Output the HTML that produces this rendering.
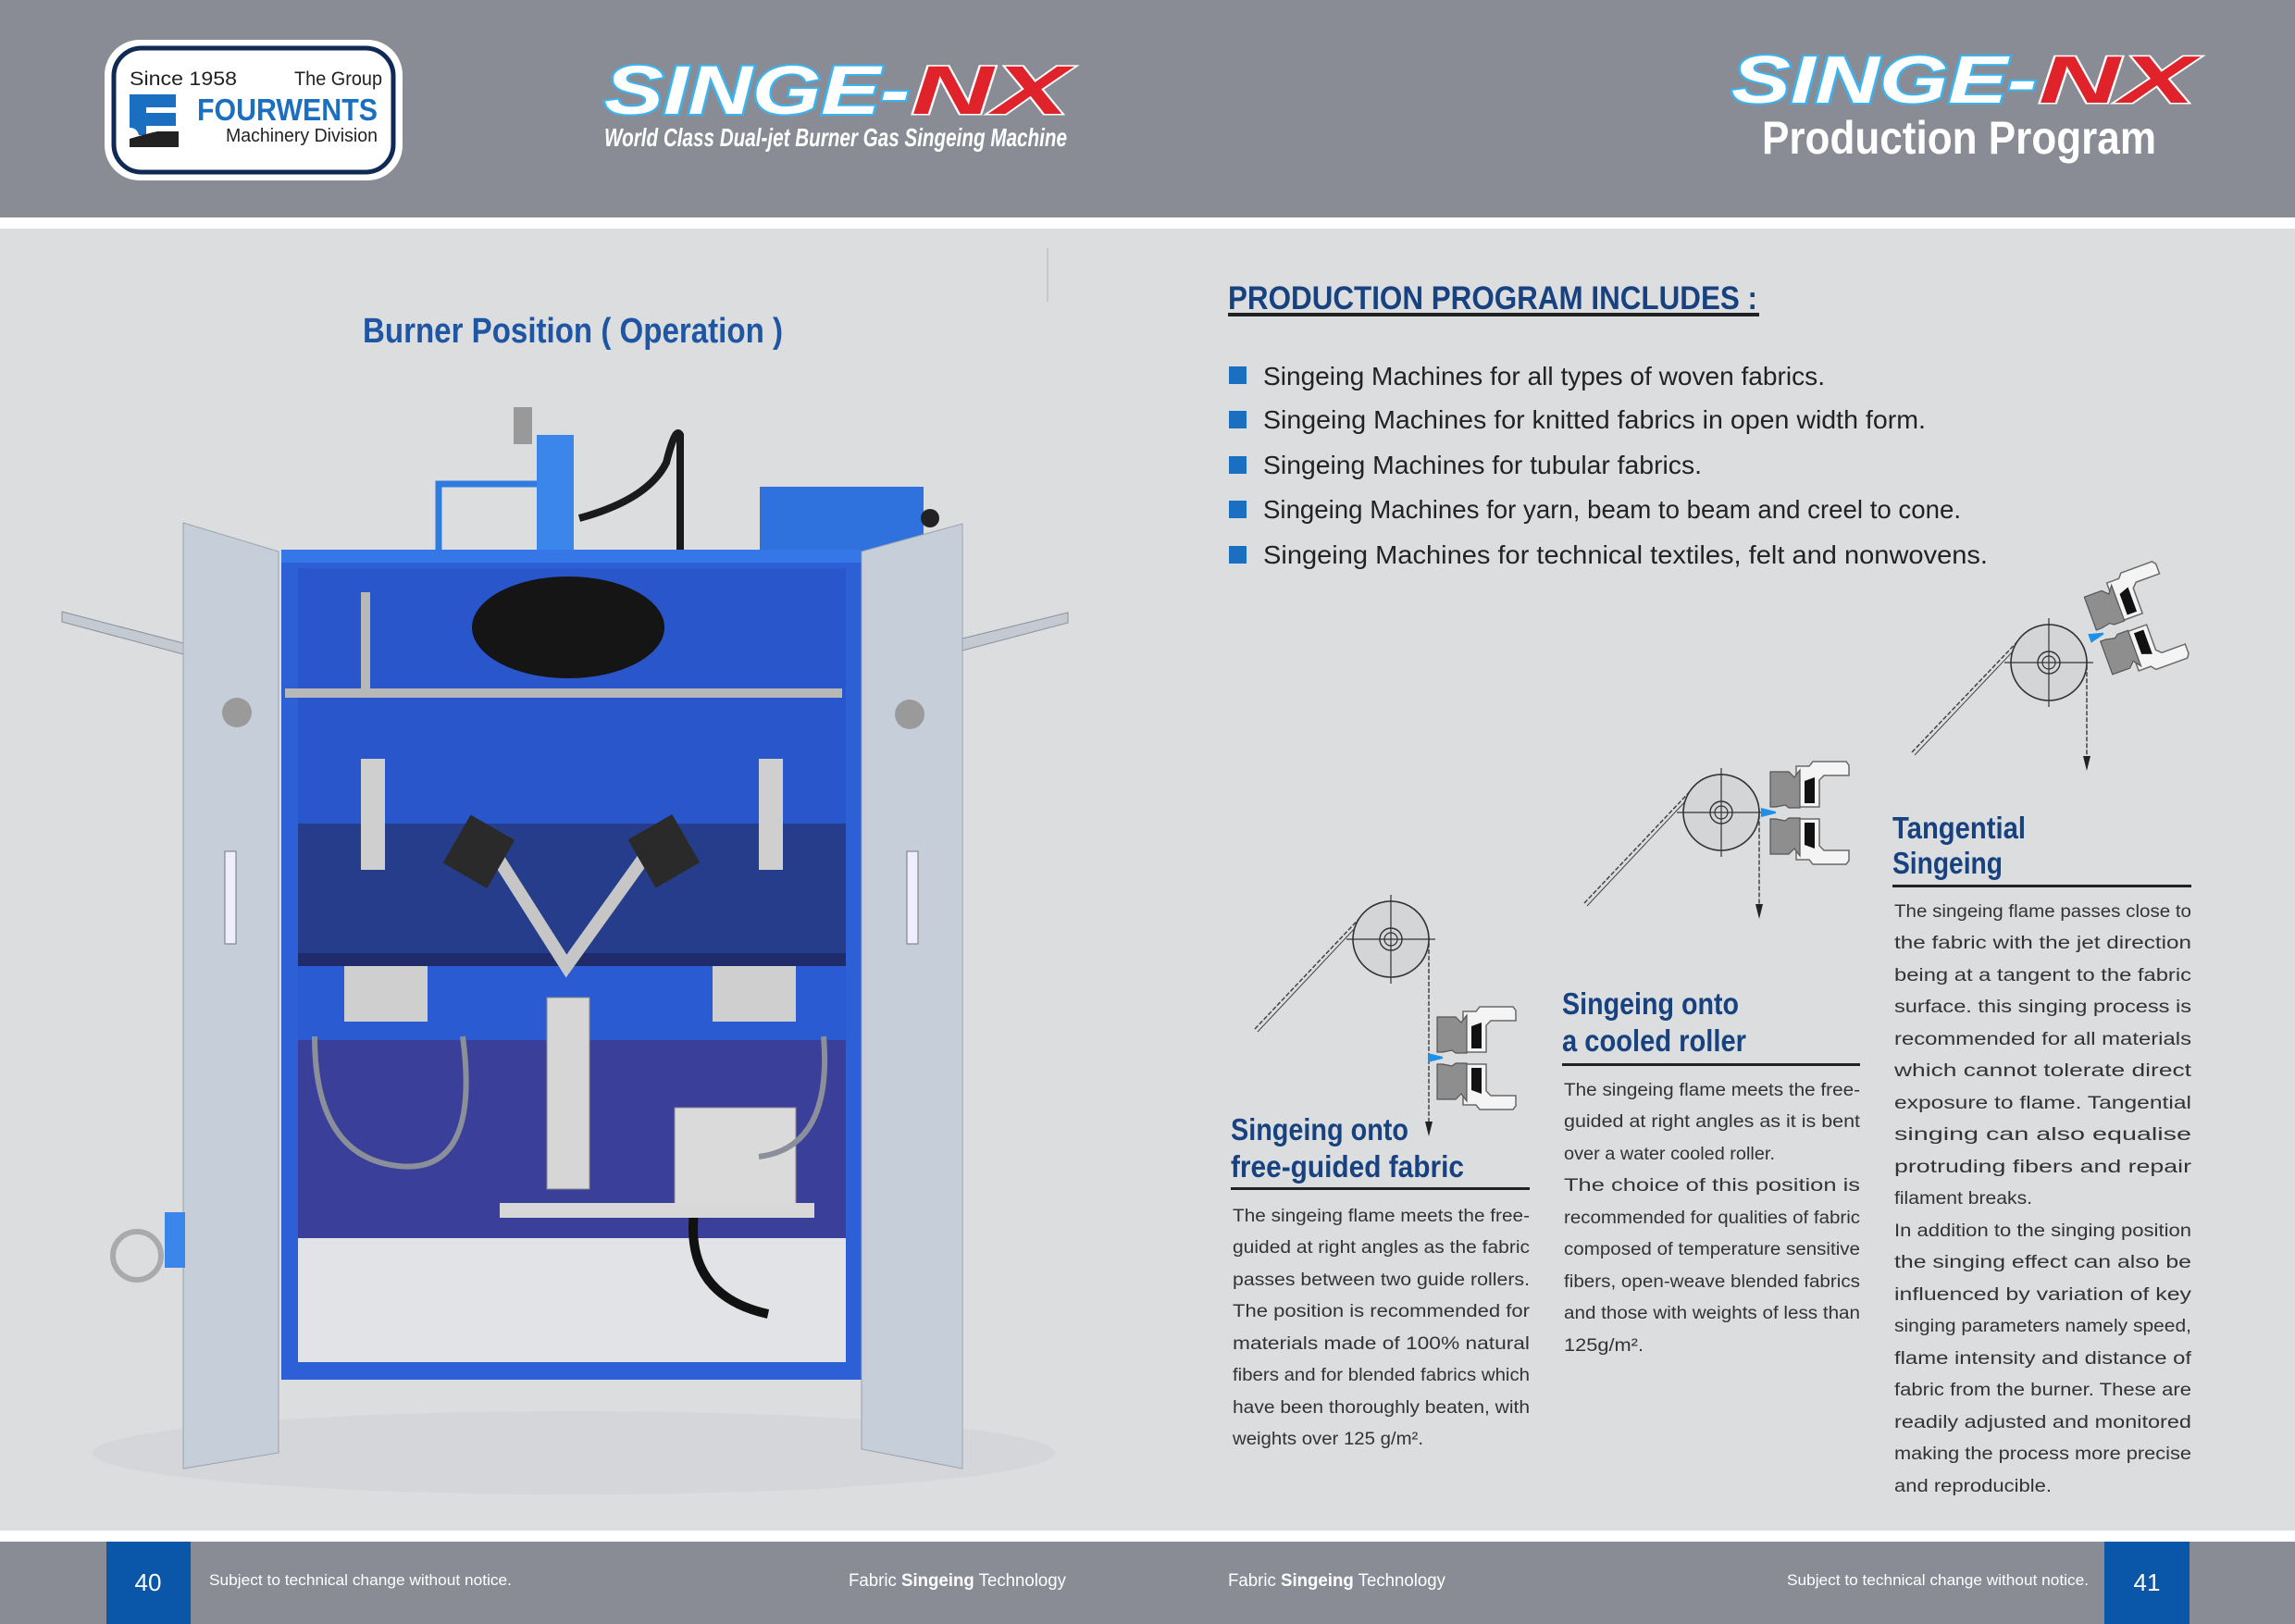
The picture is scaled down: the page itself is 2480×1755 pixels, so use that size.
<!DOCTYPE html>
<html><head><meta charset="utf-8"><style>
html,body{margin:0;padding:0;background:#dcdddf;}
svg{display:block;}
text{font-family:"Liberation Sans",sans-serif;}
.p{font-size:19px;fill:#333;}
.h{font-size:33px;font-weight:bold;fill:#17427f;}
</style></head><body>
<svg width="2480" height="1755" viewBox="0 0 2480 1755" xmlns="http://www.w3.org/2000/svg">
<defs>
<g id="burner">
  <path d="M0,-5 L16,-1 L16,1 L0,5 Z" fill="#1e90e6"/>
  <g id="bhalf">
    <path d="M38,-50 L52,-50 L56,-55 L92,-55 L95,-51 L95,-40 L68,-40 L63,-35 L63,-6 L38,-6 Z" fill="#f4f4f4" stroke="#6a6a6a" stroke-width="1.5"/>
    <path d="M10,-44 L30,-44 L36,-38 L42,-46 L42,-5 L30,-5 L26,-8 L16,-6 L10,-6 Z" fill="#8e8e8e" stroke="#555" stroke-width="1.2"/>
    <path d="M47,-34 L58,-38 L58,-10 L47,-10 Z" fill="#111"/>
  </g>
  <use href="#bhalf" transform="scale(1,-1) translate(0,-1)"/>
</g>
<g id="roller">
  <circle r="41" fill="#d4d5d7" stroke="#333" stroke-width="1.6"/>
  <circle r="12" fill="none" stroke="#333" stroke-width="1.4"/>
  <circle r="7" fill="none" stroke="#333" stroke-width="1.2"/>
  <path d="M-48,0 H48 M0,-48 V48" stroke="#333" stroke-width="1.2"/>
</g>
</defs>

<rect x="0" y="0" width="2480" height="235" fill="#898c95"/>
<rect x="0" y="235" width="2480" height="12" fill="#ffffff"/>
<rect x="0" y="1654" width="2480" height="12" fill="#ffffff"/>
<rect x="0" y="1666" width="2480" height="89" fill="#898c95"/>
<rect x="115" y="1666" width="91" height="89" fill="#0a56a8"/>
<rect x="2274" y="1666" width="92" height="89" fill="#0a56a8"/>
<text x="160" y="1719" font-size="26" fill="#fff" text-anchor="middle">40</text>
<text x="2320" y="1719" font-size="26" fill="#fff" text-anchor="middle">41</text>
<text x="226" y="1713" font-size="17" fill="#fff" textLength="327" lengthAdjust="spacingAndGlyphs">Subject to technical change without notice.</text>
<text x="917" y="1714" font-size="19" fill="#fff" textLength="235" lengthAdjust="spacingAndGlyphs">Fabric <tspan font-weight="bold">Singeing</tspan> Technology</text>
<text x="1327" y="1714" font-size="19" fill="#fff" textLength="235" lengthAdjust="spacingAndGlyphs">Fabric <tspan font-weight="bold">Singeing</tspan> Technology</text>
<text x="1931" y="1713" font-size="17" fill="#fff" textLength="326" lengthAdjust="spacingAndGlyphs">Subject to technical change without notice.</text>

<rect x="113" y="43" width="322" height="152" rx="38" fill="#fff"/>
<rect x="123" y="52" width="302" height="134" rx="30" fill="none" stroke="#0f2a55" stroke-width="5"/>
<text x="140" y="92" font-size="21" fill="#222" textLength="116" lengthAdjust="spacingAndGlyphs">Since 1958</text>
<text x="318" y="92" font-size="21" fill="#222" textLength="95" lengthAdjust="spacingAndGlyphs">The Group</text>
<text x="213" y="130" font-size="33" font-weight="bold" fill="#1a6fc0" textLength="195" lengthAdjust="spacingAndGlyphs">FOURWENTS</text>
<text x="244" y="153" font-size="20" fill="#222" textLength="164" lengthAdjust="spacingAndGlyphs">Machinery Division</text>
<path d="M140,102 H190 V116 H158 V122 H190 V136 H158 V146 H150 Q148,138 140,138 Z" fill="#1a6fc0"/>
<path d="M140,150 Q160,144 170,142 H193 V159 H140 Z" fill="#222"/>

<g font-style="italic" font-weight="bold" font-size="74">
<text x="653" y="123" fill="#fff" stroke="#3ab4f0" stroke-width="4" paint-order="stroke" textLength="330" lengthAdjust="spacingAndGlyphs">SINGE-</text>
<text x="985" y="123" fill="#e0232a" stroke="#fff" stroke-width="3" paint-order="stroke" textLength="170" lengthAdjust="spacingAndGlyphs">NX</text>
</g>
<text x="653" y="158" font-size="28" font-style="italic" font-weight="bold" fill="#fff" textLength="500" lengthAdjust="spacingAndGlyphs">World Class Dual-jet Burner Gas Singeing Machine</text>
<g font-style="italic" font-weight="bold" font-size="72">
<text x="1871" y="111" fill="#fff" stroke="#3ab4f0" stroke-width="4" paint-order="stroke" textLength="330" lengthAdjust="spacingAndGlyphs">SINGE-</text>
<text x="2203" y="111" fill="#e0232a" stroke="#fff" stroke-width="3" paint-order="stroke" textLength="169" lengthAdjust="spacingAndGlyphs">NX</text>
</g>
<text x="1904" y="166" font-size="50" font-weight="bold" fill="#fff" textLength="426" lengthAdjust="spacingAndGlyphs">Production Program</text>

<text x="392" y="370" font-size="38" font-weight="bold" fill="#1f56a3" textLength="454" lengthAdjust="spacingAndGlyphs">Burner Position ( Operation )</text>
<line x1="1132" y1="268" x2="1132" y2="326" stroke="#c8c9cc" stroke-width="2"/>

<!-- machine -->
<ellipse cx="620" cy="1570" rx="520" ry="45" fill="#d5d6d9"/>
<path d="M67,661 L198,695 L198,707 L67,672 Z" fill="#c4cad2" stroke="#8a9099"/>
<path d="M1040,690 L1154,662 L1154,673 L1040,703 Z" fill="#c4cad2" stroke="#8a9099"/>
<path d="M474,596 V523 H584" fill="none" stroke="#2f7be0" stroke-width="7"/>
<rect x="821" y="526" width="177" height="70" fill="#2f72de"/>
<circle cx="1005" cy="560" r="10" fill="#222"/>
<rect x="580" y="470" width="40" height="126" fill="#3a86ea"/>
<circle cx="600" cy="500" r="20" fill="#3a86ea"/>
<rect x="555" y="440" width="20" height="40" fill="#999"/>
<path d="M626,560 Q700,540 720,500 Q730,460 735,470 V596" fill="none" stroke="#1a1a1a" stroke-width="8"/>
<rect x="304" y="594" width="627" height="897" fill="#2d5fd6"/>
<rect x="322" y="614" width="592" height="420" fill="#2a56cc"/>
<rect x="322" y="1030" width="592" height="16" fill="#1f2b6a"/>
<rect x="322" y="1044" width="592" height="80" fill="#2b5bd3"/>
<rect x="322" y="1124" width="592" height="214" fill="#3a3f9a"/>
<rect x="322" y="1338" width="592" height="134" fill="#e2e3e6"/>
<rect x="304" y="1472" width="627" height="19" fill="#2d5fd6"/>
<rect x="304" y="594" width="627" height="14" fill="#3577e6"/>
<rect x="322" y="890" width="592" height="140" fill="#222a55" opacity="0.55"/>
<ellipse cx="614" cy="678" rx="104" ry="55" fill="#151515"/>
<rect x="308" y="744" width="602" height="10" fill="#b8b8b8"/>
<rect x="390" y="640" width="10" height="110" fill="#b8b8b8"/>
<path d="M527,910 L612,1044 L708,910" fill="none" stroke="#c6c6c6" stroke-width="14"/>
<rect x="490" y="890" width="55" height="60" fill="#2a2a2a" transform="rotate(30 517 920)"/>
<rect x="690" y="890" width="55" height="60" fill="#2a2a2a" transform="rotate(-30 717 920)"/>
<rect x="591" y="1078" width="46" height="207" fill="#d6d6d6" stroke="#888"/>
<rect x="729" y="1197" width="131" height="111" fill="#dadada" stroke="#888"/>
<rect x="390" y="820" width="26" height="120" fill="#cfcfcf"/>
<rect x="820" y="820" width="26" height="120" fill="#cfcfcf"/>
<rect x="372" y="1044" width="90" height="60" fill="#cfcfcf"/>
<rect x="770" y="1044" width="90" height="60" fill="#cfcfcf"/>
<path d="M340,1120 Q340,1250 430,1260 Q520,1270 500,1120" fill="none" stroke="#8a8f9a" stroke-width="6"/>
<path d="M890,1120 Q900,1240 820,1250" fill="none" stroke="#8a8f9a" stroke-width="6"/>
<path d="M750,1310 Q740,1400 830,1420" fill="none" stroke="#111" stroke-width="10"/>
<rect x="540" y="1300" width="340" height="16" fill="#d8d8d8"/>
<path d="M198,565 L301,596 L301,1570 L198,1587 Z" fill="#c6cfd9" stroke="#9aa3ad"/>
<path d="M931,596 L1040,566 L1040,1587 L931,1566 Z" fill="#c6cfd9" stroke="#9aa3ad"/>
<circle cx="256" cy="770" r="16" fill="#9a9a9a"/>
<circle cx="983" cy="772" r="16" fill="#9a9a9a"/>
<rect x="243" y="920" width="12" height="100" fill="#eef" stroke="#777"/>
<rect x="980" y="920" width="12" height="100" fill="#eef" stroke="#777"/>
<circle cx="148" cy="1357" r="26" fill="none" stroke="#aaa" stroke-width="6"/>
<rect x="178" y="1310" width="22" height="60" fill="#3a86ea"/>

<text x="1327" y="334" font-size="35" font-weight="bold" fill="#17427f" textLength="572" lengthAdjust="spacingAndGlyphs">PRODUCTION PROGRAM  INCLUDES :</text>
<rect x="1327" y="338" width="574" height="4" fill="#222"/>
<g fill="#1a6fc0">
<rect x="1328" y="396" width="19" height="19"/><rect x="1328" y="444" width="19" height="19"/><rect x="1328" y="493" width="19" height="19"/><rect x="1328" y="541" width="19" height="19"/><rect x="1328" y="590" width="19" height="19"/>
</g>
<g font-size="28" fill="#222">
<text x="1365" y="416" textLength="607" lengthAdjust="spacingAndGlyphs">Singeing Machines for all types of woven fabrics.</text>
<text x="1365" y="463" textLength="716" lengthAdjust="spacingAndGlyphs">Singeing Machines for knitted fabrics in open width form.</text>
<text x="1365" y="512" textLength="474" lengthAdjust="spacingAndGlyphs">Singeing Machines for tubular fabrics.</text>
<text x="1365" y="560" textLength="754" lengthAdjust="spacingAndGlyphs">Singeing Machines for yarn, beam to beam and creel to cone.</text>
<text x="1365" y="609" textLength="783" lengthAdjust="spacingAndGlyphs">Singeing Machines for technical textiles, felt  and  nonwovens.</text>
</g>

<g fill="none" stroke="#444" stroke-width="1.5" stroke-dasharray="5,2">
<path d="M1356,1112 L1479.5,981.4 A41,41 0 0 1 1544,1015 L1544,1220"/>
<path d="M1712,976 L1836.5,844.4 A41,41 0 0 1 1901,878 L1901,985"/>
<path d="M2066,813 L2190.5,682.4 A41,41 0 0 1 2255,716 L2255,825"/>
</g>
<g fill="none" stroke="#444" stroke-width="1">
<path d="M1359,1115 L1482,984"/><path d="M1715,979 L1839,847"/><path d="M2069,816 L2193,685"/>
</g>
<path d="M1540,1212 L1548,1212 L1544,1228 Z M1897,977 L1905,977 L1901,993 Z M2251,817 L2259,817 L2255,833 Z" fill="#222"/>
<use href="#roller" x="1503" y="1015"/>
<use href="#roller" x="1860" y="878"/>
<use href="#roller" x="2214" y="716"/>
<use href="#burner" transform="translate(1543,1143)"/>
<use href="#burner" transform="translate(1903,878)"/>
<use href="#burner" transform="translate(2258,690) rotate(-20)"/>

<text class="h" x="1330" y="1232" textLength="192" lengthAdjust="spacingAndGlyphs">Singeing onto</text>
<text class="h" x="1330" y="1272" textLength="252" lengthAdjust="spacingAndGlyphs">free-guided fabric</text>
<rect x="1330" y="1283" width="323" height="3" fill="#222"/>
<text class="h" x="1688" y="1096" textLength="191" lengthAdjust="spacingAndGlyphs">Singeing onto</text>
<text class="h" x="1688" y="1136" textLength="199" lengthAdjust="spacingAndGlyphs">a cooled roller</text>
<rect x="1688" y="1149" width="322" height="3" fill="#222"/>
<text class="h" x="2045" y="906" textLength="144" lengthAdjust="spacingAndGlyphs">Tangential</text>
<text class="h" x="2045" y="944" textLength="119" lengthAdjust="spacingAndGlyphs">Singeing</text>
<rect x="2045" y="956" width="323" height="3" fill="#222"/>

<g class="p">
<text x="1332" y="1320" textLength="321" lengthAdjust="spacingAndGlyphs">The singeing flame meets the free-</text>
<text x="1332" y="1354" textLength="321" lengthAdjust="spacingAndGlyphs">guided at right angles as the fabric</text>
<text x="1332" y="1389" textLength="321" lengthAdjust="spacingAndGlyphs">passes between two guide rollers.</text>
<text x="1332" y="1423" textLength="321" lengthAdjust="spacingAndGlyphs">The position is recommended for</text>
<text x="1332" y="1458" textLength="321" lengthAdjust="spacingAndGlyphs">materials made of 100% natural</text>
<text x="1332" y="1492" textLength="321" lengthAdjust="spacingAndGlyphs">fibers and for blended fabrics which</text>
<text x="1332" y="1527" textLength="321" lengthAdjust="spacingAndGlyphs">have been thoroughly beaten, with</text>
<text x="1332" y="1561" textLength="206" lengthAdjust="spacingAndGlyphs">weights over 125 g/m².</text>
</g>
<g class="p">
<text x="1690" y="1184" textLength="320" lengthAdjust="spacingAndGlyphs">The singeing flame meets the free-</text>
<text x="1690" y="1218" textLength="320" lengthAdjust="spacingAndGlyphs">guided at right angles as it is bent</text>
<text x="1690" y="1253" textLength="228" lengthAdjust="spacingAndGlyphs">over a water cooled roller.</text>
<text x="1690" y="1287" textLength="320" lengthAdjust="spacingAndGlyphs">The choice of this position is</text>
<text x="1690" y="1322" textLength="320" lengthAdjust="spacingAndGlyphs">recommended for qualities of fabric</text>
<text x="1690" y="1356" textLength="320" lengthAdjust="spacingAndGlyphs">composed of temperature sensitive</text>
<text x="1690" y="1391" textLength="320" lengthAdjust="spacingAndGlyphs">fibers, open-weave blended fabrics</text>
<text x="1690" y="1425" textLength="320" lengthAdjust="spacingAndGlyphs">and those with weights of less than</text>
<text x="1690" y="1460" textLength="86" lengthAdjust="spacingAndGlyphs">125g/m².</text>
</g>
<g class="p">
<text x="2047" y="991" textLength="321" lengthAdjust="spacingAndGlyphs">The singeing flame passes close to</text>
<text x="2047" y="1025" textLength="321" lengthAdjust="spacingAndGlyphs">the fabric with the jet direction</text>
<text x="2047" y="1060" textLength="321" lengthAdjust="spacingAndGlyphs">being at a tangent to the fabric</text>
<text x="2047" y="1094" textLength="321" lengthAdjust="spacingAndGlyphs">surface. this singing process is</text>
<text x="2047" y="1129" textLength="321" lengthAdjust="spacingAndGlyphs">recommended for all materials</text>
<text x="2047" y="1163" textLength="321" lengthAdjust="spacingAndGlyphs">which cannot tolerate direct</text>
<text x="2047" y="1198" textLength="321" lengthAdjust="spacingAndGlyphs">exposure to flame. Tangential</text>
<text x="2047" y="1232" textLength="321" lengthAdjust="spacingAndGlyphs">singing can also equalise</text>
<text x="2047" y="1267" textLength="321" lengthAdjust="spacingAndGlyphs">protruding fibers and repair</text>
<text x="2047" y="1301" textLength="149" lengthAdjust="spacingAndGlyphs">filament breaks.</text>
<text x="2047" y="1336" textLength="321" lengthAdjust="spacingAndGlyphs">In addition to the singing position</text>
<text x="2047" y="1370" textLength="321" lengthAdjust="spacingAndGlyphs">the singing effect can also be</text>
<text x="2047" y="1405" textLength="321" lengthAdjust="spacingAndGlyphs">influenced by variation  of key</text>
<text x="2047" y="1439" textLength="321" lengthAdjust="spacingAndGlyphs">singing parameters namely speed,</text>
<text x="2047" y="1474" textLength="321" lengthAdjust="spacingAndGlyphs">flame intensity and distance of</text>
<text x="2047" y="1508" textLength="321" lengthAdjust="spacingAndGlyphs">fabric from the burner. These are</text>
<text x="2047" y="1543" textLength="321" lengthAdjust="spacingAndGlyphs">readily adjusted and monitored</text>
<text x="2047" y="1577" textLength="321" lengthAdjust="spacingAndGlyphs">making the process more precise</text>
<text x="2047" y="1612" textLength="170" lengthAdjust="spacingAndGlyphs">and reproducible.</text>
</g>
</svg>
</body></html>
